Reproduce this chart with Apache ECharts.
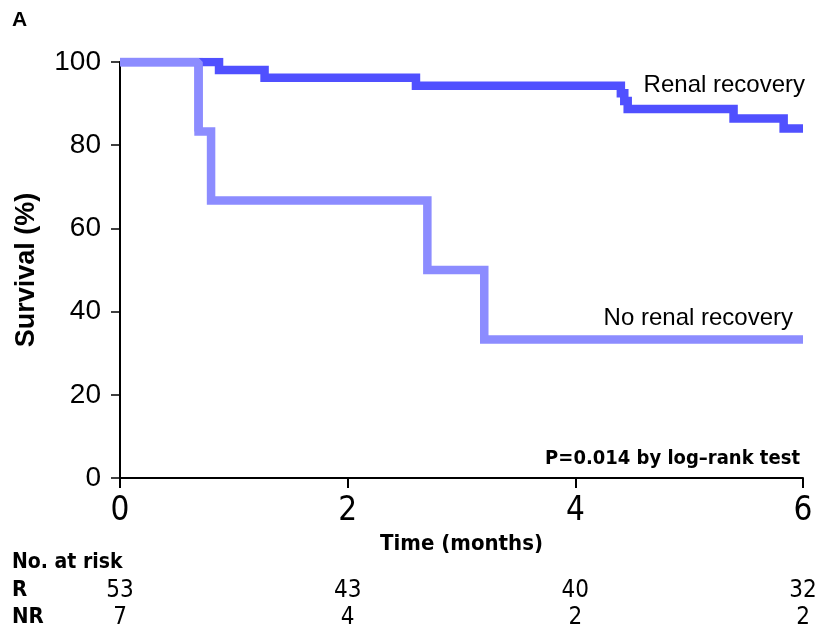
<!DOCTYPE html>
<html>
<head>
<meta charset="utf-8">
<script src="https://cdn.jsdelivr.net/npm/echarts@6/dist/echarts.min.js"></script>
<style>
  html, body { margin: 0; padding: 0; background: #fff; }
  #container { width: 820px; height: 632px; }
</style>
</head>
<body>
<div id="container"></div>
<script>
var dom = document.getElementById('container');
var myChart = echarts.init(dom, null, { renderer: 'canvas' });

// survival steps: [months, survival %]
var recovery = [[0, 100], [0.87, 98.1], [1.27, 96.2], [2.6, 94.3], [4.4, 92.5], [4.43, 90.6], [4.46, 88.7], [5.39, 86.4], [5.83, 84.0], [6, 84.0]];
var noRecovery = [[0, 100], [0.69, 83.3], [0.8, 66.7], [2.7, 50.0], [3.2, 33.3], [6, 33.3]];

var riskTimes = [0, 2, 4, 6];
var riskGroups = ['R', 'NR'];
var riskR = [53, 43, 40, 32];
var riskNR = [7, 4, 2, 2];

var narrow = '"DejaVu Sans Condensed", "Liberation Sans Narrow", "Liberation Sans", sans-serif';
var regular = '"Liberation Sans", Arial, sans-serif';

var riskData = [];
riskTimes.forEach(function (t, i) {
  riskData.push([t, 'R', riskR[i]]);
  riskData.push([t, 'NR', riskNR[i]]);
});

var option = {
  animation: false,
  backgroundColor: '#fff',
  grid: [
    { left: 120, right: 17, top: 62, height: 416 },
    { left: 120, right: 17, top: 577, height: 54 }
  ],
  xAxis: [
    {
      type: 'value', gridIndex: 0, min: 0, max: 6, interval: 2,
      name: 'Time (months)', nameLocation: 'middle', nameGap: 51,
      nameTextStyle: { fontFamily: narrow, fontWeight: 'bold', fontSize: 22, color: '#000' },
      axisLine: { lineStyle: { color: '#000', width: 2 } },
      axisTick: { length: 10, lineStyle: { color: '#000', width: 2 } },
      axisLabel: { fontFamily: narrow, fontSize: 33, color: '#000', margin: 17 },
      splitLine: { show: false }
    },
    {
      type: 'value', gridIndex: 1, min: 0, max: 6,
      show: false
    }
  ],
  yAxis: [
    {
      type: 'value', gridIndex: 0, min: 0, max: 100, interval: 20,
      name: 'Survival (%)', nameLocation: 'middle', nameGap: 80, nameRotate: 90,
      nameTextStyle: { fontFamily: regular, fontWeight: 'bold', fontSize: 27, color: '#000' },
      axisLine: { show: true, lineStyle: { color: '#000', width: 2 } },
      axisTick: { show: true, length: 9, lineStyle: { color: '#000', width: 1.5 } },
      axisLabel: { fontFamily: regular, fontSize: 28, color: '#000', margin: 19 },
      splitLine: { show: false }
    },
    {
      type: 'category', gridIndex: 1, data: riskGroups, inverse: true,
      axisLine: { show: false }, axisTick: { show: false },
      axisLabel: { interval: 0, align: 'left', margin: 108, fontFamily: narrow, fontWeight: 'bold', fontSize: 22, color: '#000' }
    }
  ],
  series: [
    {
      name: 'No renal recovery', type: 'line', step: 'end',
      xAxisIndex: 0, yAxisIndex: 0, data: noRecovery,
      showSymbol: false, symbol: 'none',
      lineStyle: { color: '#8c8cff', width: 8.5, cap: 'butt', join: 'miter' },
      z: 2
    },
    {
      name: 'Renal recovery', type: 'line', step: 'end',
      xAxisIndex: 0, yAxisIndex: 0, data: recovery,
      showSymbol: false, symbol: 'none',
      lineStyle: { color: '#5050ff', width: 8.5, cap: 'butt', join: 'miter' },
      z: 3
    },
    {
      name: 'No. at risk', type: 'scatter', xAxisIndex: 1, yAxisIndex: 1,
      data: riskData, symbolSize: 0, silent: true,
      itemStyle: { opacity: 1 },
      label: {
        show: true, position: 'inside',
        formatter: function (p) { return p.value[2]; },
        fontFamily: narrow, fontSize: 24, color: '#000'
      }
    },
    // re-draw the light curve's first flat part above the dark one, as in the figure
    {
      type: 'line', xAxisIndex: 0, yAxisIndex: 0,
      data: noRecovery.slice(0, 2), step: 'end', showSymbol: false, symbol: 'none',
      lineStyle: { color: '#8c8cff', width: 8.5, cap: 'butt' }, z: 4
    }
  ],
  graphic: [
    { type: 'text', left: 12, top: 10, style: { text: 'A', font: 'bold 21px ' + regular, fill: '#000' } },
    { type: 'text', right: 15, top: 73, style: { text: 'Renal recovery', font: '24px ' + regular, fill: '#000' } },
    { type: 'text', right: 27, top: 306, style: { text: 'No renal recovery', font: '24px ' + regular, fill: '#000' } },
    { type: 'text', right: 20, top: 449, style: { text: 'P=0.014 by log\u2013rank test', font: 'bold 20px ' + narrow, fill: '#000' } },
    { type: 'text', left: 12, top: 552, style: { text: 'No. at risk', font: 'bold 21px ' + narrow, fill: '#000' } }
  ]
};

myChart.setOption(option);
window.addEventListener('resize', myChart.resize);
</script>
</body>
</html>
